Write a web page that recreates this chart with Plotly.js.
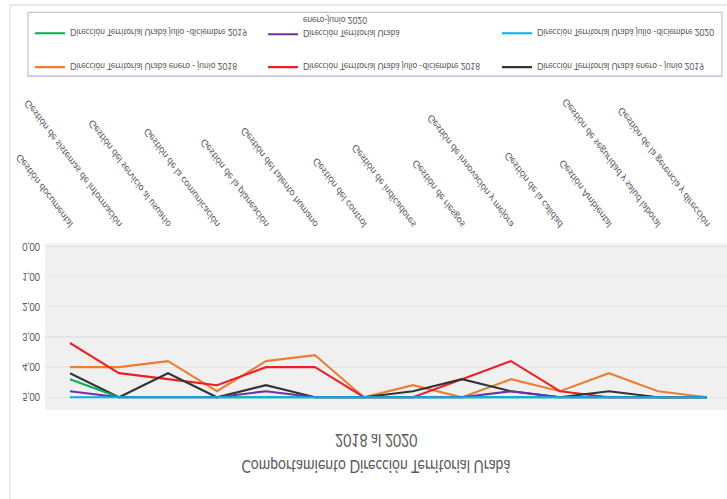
<!DOCTYPE html>
<html><head><meta charset="utf-8">
<script src="https://cdn.plot.ly/plotly-3.0.1.min.js"></script>
<style>
html,body{margin:0;padding:0;background:#fff;overflow:hidden;}
#wrap{width:727px;height:499px;position:relative;overflow:hidden;background:#fff;}
#chart{width:727px;height:416px;position:absolute;left:0;top:0;transform-origin:0 0;transform:translateY(499px) scaleY(-1.1995);}
</style></head><body><div id="wrap"><div id="chart"></div></div>
<script>
const categories = [
  "Gestión documental",
  "Gestión de sistemas de información",
  "Gestión del servicio al usuario",
  "Gestión de la comunicación",
  "Gestión de la planeación",
  "Gestión del talento humano",
  "Gestión del control",
  "Gestión de indicadores",
  "Gestión de riesgos",
  "Gestión de innovación y mejora",
  "Gestión de la calidad",
  "Gestión Ambiental",
  "Gestión de seguridad y salud laboral",
  "Gestión de la gerencia y dirección"
];
const eneJun2018 = [4.0, 4.0, 3.8, 4.8, 3.8, 3.6, 5.0, 4.6, 5.0, 4.4, 4.8, 4.2, 4.8, 5.0];
const julDic2018 = [3.2, 4.2, 4.4, 4.6, 4.0, 4.0, 5.0, 5.0, 4.4, 3.8, 4.8, 5.0, 5.0, 5.0];
const eneJun2019 = [4.2, 5.0, 4.2, 5.0, 4.6, 5.0, 5.0, 4.8, 4.4, 4.8, 5.0, 4.8, 5.0, 5.0];
const julDic2019 = [4.4, 5.0, 5.0, 5.0, 5.0, 5.0, 5.0, 5.0, 5.0, 5.0, 5.0, 5.0, 5.0, 5.0];
const eneJun2020 = [4.8, 5.0, 5.0, 5.0, 4.8, 5.0, 5.0, 5.0, 5.0, 4.8, 5.0, 5.0, 5.0, 5.0];
const julDic2020 = [5.0, 5.0, 5.0, 5.0, 5.0, 5.0, 5.0, 5.0, 5.0, 5.0, 5.0, 5.0, 5.0, 5.0];
const yTicks = [0, 1, 2, 3, 4, 5];

const seriesNames = [
  "Dirección Territorial Urabá enero - junio 2018",
  "Dirección Territorial Urabá julio -diciembre 2018",
  "Dirección Territorial Urabá enero - junio 2019",
  "Dirección Territorial Urabá julio -diciembre 2019",
  "Dirección Territorial Urabá<br>enero-junio 2020",
  "Dirección Territorial Urabá julio -diciembre 2020"
];
const seriesValues = [eneJun2018, julDic2018, eneJun2019, julDic2019, eneJun2020, julDic2020];
const seriesColors = ["#ED7D31", "#F01E23", "#333333", "#00B050", "#7030A0", "#00B0F0"];
const legendIds = ["legend", "legend2", "legend3", "legend4", "legend5", "legend6"];

const traces = seriesValues.map((vals, i) => ({
  type: "scatter", mode: "lines", x: categories, y: vals, name: seriesNames[i],
  line: {color: seriesColors[i], width: 1.8}, legend: legendIds[i], showlegend: true, hoverinfo: "skip"
}));

const H = 416;
const font = {family: "Lato, 'Open Sans', sans-serif", color: "#595959"};
function leg(textX, yc, anchor, valign) {
  return {
    orientation: "h", xref: "container", yref: "container",
    x: (textX - 40) / 727, xanchor: "left",
    y: 1 - yc / H, yanchor: anchor, valign: valign || "middle",
    bgcolor: "rgba(0,0,0,0)", borderwidth: 0,
    font: {family: font.family, color: font.color, size: 8.4}
  };
}

const layout = {
  width: 727, height: H,
  showlegend: true,
  margin: {l: 45, r: 0, t: 74, b: 203, pad: 0},
  paper_bgcolor: "rgba(0,0,0,0)", plot_bgcolor: "#f0f0f0",
  separators: ",.",
  title: {
    text: "Comportamiento Dirección Territorial Urabá",
    font: {family: font.family, color: font.color, size: 14},
    xref: "container", x: 376 / 727, xanchor: "center",
    yref: "container", y: 1 - 27.5 / H, yanchor: "middle"
  },
  xaxis: {
    type: "category", range: [-0.51, 13.41], showgrid: false, zeroline: false,
    showline: false, ticks: "", tickangle: -48, ticklabelstandoff: 8,
    tickfont: {family: font.family, color: "#595959", size: 9}
  },
  yaxis: {
    range: [-0.1, 5.43], tickvals: yTicks, tickformat: ".2f", showgrid: true,
    gridcolor: "#e5e5e5", gridwidth: 1, zeroline: false, showline: false, ticks: "",
    ticklabelstandoff: 4,
    tickfont: {family: font.family, color: "#595959", size: 9}
  },
  legend: leg(70, 360, "middle"),
  legend2: leg(303, 360, "middle"),
  legend3: leg(537, 360, "middle"),
  legend4: leg(70, 388.3, "middle"),
  legend5: leg(303, 375.5, "top", "top"),
  legend6: leg(537, 388.3, "middle"),
  annotations: [{
    text: "2018 al 2020", xref: "paper", yref: "paper",
    x: (376 - 45) / 682, y: (213 - 48.3) / 139, xanchor: "center", yanchor: "middle",
    showarrow: false, font: {family: font.family, color: font.color, size: 14}
  }],
  shapes: [
    {type: "rect", xref: "paper", yref: "paper", x0: (28 - 45) / 682, x1: (722 - 45) / 682,
     y0: (213 - 405.8) / 139, y1: (213 - 352.5) / 139, line: {color: "#b9b0d3", width: 1}},
    {type: "rect", xref: "paper", yref: "paper", x0: (10 - 45) / 682, x1: 1.05,
     y0: (213 - 411.7) / 139, y1: 1.6, line: {color: "#dcdcdc", width: 1}}
  ]
};

Plotly.newPlot("chart", traces, layout, {displayModeBar: false, staticPlot: true});
</script></body></html>
